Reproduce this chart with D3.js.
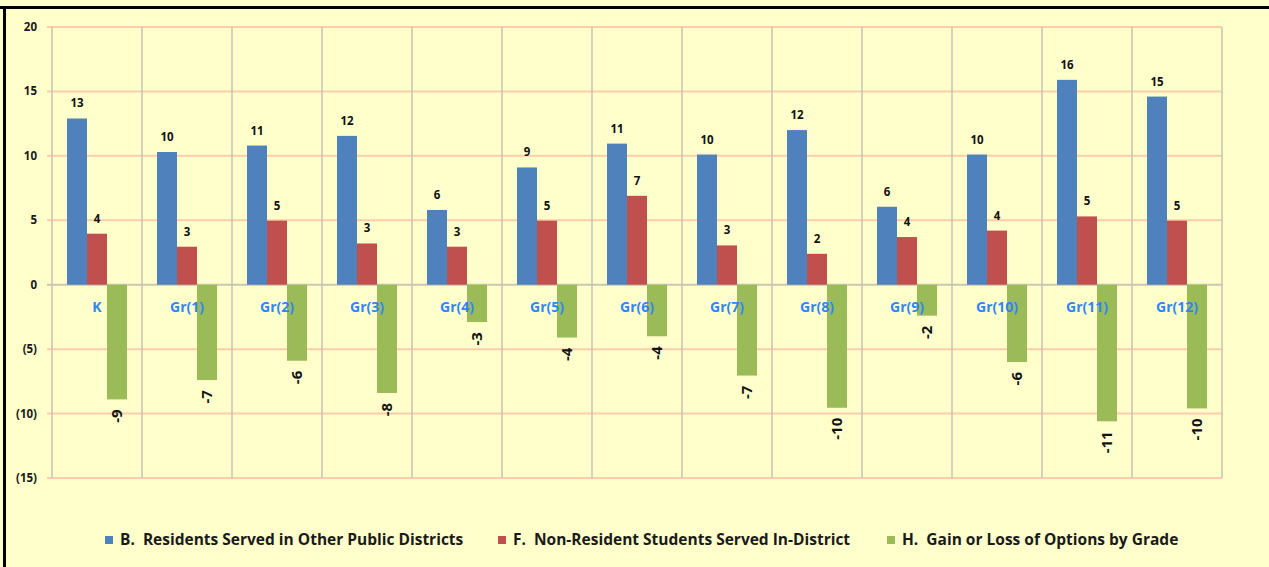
<!DOCTYPE html>
<html>
<head>
<meta charset="utf-8">
<script src="https://cdn.jsdelivr.net/npm/d3@7"></script>
<style>
  html, body { margin: 0; padding: 0; background: #FFFFCC; }
  svg { display: block; }
  text { font-family: "Open Sans", Lato, sans-serif; font-weight: bold; white-space: pre; }
</style>
</head>
<body>
<svg id="chart" width="1269" height="567"></svg>
<script>
// ---- Data ----
const categories = ["K","Gr(1)","Gr(2)","Gr(3)","Gr(4)","Gr(5)","Gr(6)","Gr(7)","Gr(8)","Gr(9)","Gr(10)","Gr(11)","Gr(12)"];
const seriesNames = [
  "B.  Residents Served in Other Public Districts",
  "F.  Non-Resident Students Served In-District",
  "H.  Gain or Loss of Options by Grade"
];
const residentsOther = [12.9, 10.3, 10.8, 11.55, 5.8, 9.1, 10.95, 10.1, 12.0, 6.05, 10.1, 15.9, 14.6];
const nonResidentIn  = [3.96, 2.95, 4.97, 3.2, 2.95, 4.97, 6.9, 3.05, 2.4, 3.7, 4.2, 5.3, 4.97];
const gainLoss       = [-8.9, -7.4, -5.9, -8.4, -2.9, -4.1, -4.0, -7.05, -9.55, -2.4, -6.0, -10.6, -9.6];
const yTicks = [20, 15, 10, 5, 0, -5, -10, -15];
const colors = ["#4F81BD", "#C0504D", "#9BBB59"];

const seriesValues = [residentsOther, nonResidentIn, gainLoss];

// ---- Layout ----
const svg = d3.select("#chart");
const W = 1269, H = 567;
const plotL = 52, plotR = 1222, plotT = 27, plotB = 478;

svg.append("rect").attr("width", W).attr("height", H).attr("fill", "#FFFFCC");

const x = d3.scaleBand().domain(categories).range([plotL, plotR]).padding(0);
const xs = d3.scaleBand().domain(d3.range(seriesNames.length)).range([0, x.bandwidth()])
  .paddingInner(0).paddingOuter(0.75);
const y = d3.scaleLinear().domain([-15, 20]).range([plotB, plotT]);

// Horizontal gridlines
svg.append("g").selectAll("line").data(yTicks).join("line")
  .attr("x1", plotL - 5).attr("x2", plotR)
  .attr("y1", d => y(d)).attr("y2", d => y(d))
  .attr("stroke", d => d === 0 ? "#C8C8B0" : "#FBCDAA")
  .attr("stroke-width", 2);

// Vertical gridlines (category boundaries)
const bounds = categories.map(c => x(c)).concat([plotR]);
svg.append("g").selectAll("line").data(bounds).join("line")
  .attr("x1", d => d).attr("x2", d => d)
  .attr("y1", plotT).attr("y2", plotB)
  .attr("stroke", "#C4C4B4").attr("stroke-width", 1.5);

// Y axis labels
const fmt = v => v < 0 ? "(" + Math.abs(v) + ")" : String(v);
svg.append("g").selectAll("text").data(yTicks).join("text")
  .attr("x", 37).attr("y", d => y(d)).attr("dy", "0.35em")
  .attr("text-anchor", "end").attr("font-size", 11.5).attr("fill", "#1a1a1a")
  .text(fmt);

// Bars
const barData = [];
categories.forEach((c, i) => {
  seriesValues.forEach((arr, s) => barData.push({ c, s, v: arr[i] }));
});
svg.append("g").selectAll("rect").data(barData).join("rect")
  .attr("x", d => x(d.c) + xs(d.s))
  .attr("width", xs.bandwidth())
  .attr("y", d => y(Math.max(0, d.v)))
  .attr("height", d => Math.abs(y(d.v) - y(0)))
  .attr("fill", d => colors[d.s]);

// Data labels
const labG = svg.append("g");
barData.filter(d => d.v >= 0).forEach(d => {
  labG.append("text")
    .attr("x", x(d.c) + xs(d.s) + xs.bandwidth() / 2)
    .attr("y", y(d.v) - 11)
    .attr("text-anchor", "middle").attr("font-size", 11.5).attr("fill", "#111")
    .text(Math.round(d.v));
});
barData.filter(d => d.v < 0).forEach(d => {
  const cx = x(d.c) + xs(d.s) + xs.bandwidth() / 2;
  const cy = y(d.v) + 10;
  labG.append("text")
    .attr("transform", `translate(${cx},${cy}) rotate(-90)`)
    .attr("x", 0).attr("y", 0).attr("dy", "0.35em")
    .attr("text-anchor", "end").attr("font-size", 15).attr("fill", "#111")
    .text(Math.round(d.v));
});

// Category labels
svg.append("g").selectAll("text").data(categories).join("text")
  .attr("x", d => x(d) + x.bandwidth() / 2).attr("y", 312)
  .attr("text-anchor", "middle").attr("font-size", 14).attr("fill", "#2F86F6")
  .text(d => d);

// Legend
const legendX = [105, 498, 887];
const lg = svg.append("g");
seriesNames.forEach((n, i) => {
  lg.append("rect").attr("x", legendX[i]).attr("y", 536).attr("width", 8).attr("height", 8).attr("fill", colors[i]);
  lg.append("text").attr("x", legendX[i] + 15).attr("y", 540).attr("dy", "0.35em")
    .attr("font-size", 15.5).attr("fill", "#1a1a1a").text(n);
});

// Frame lines (top and left)
svg.append("line").attr("x1", 0).attr("x2", W).attr("y1", 7.5).attr("y2", 7.5).attr("stroke", "#000").attr("stroke-width", 3);
svg.append("line").attr("x1", 4.5).attr("x2", 4.5).attr("y1", 6).attr("y2", H).attr("stroke", "#000").attr("stroke-width", 3);
</script>
</body>
</html>
